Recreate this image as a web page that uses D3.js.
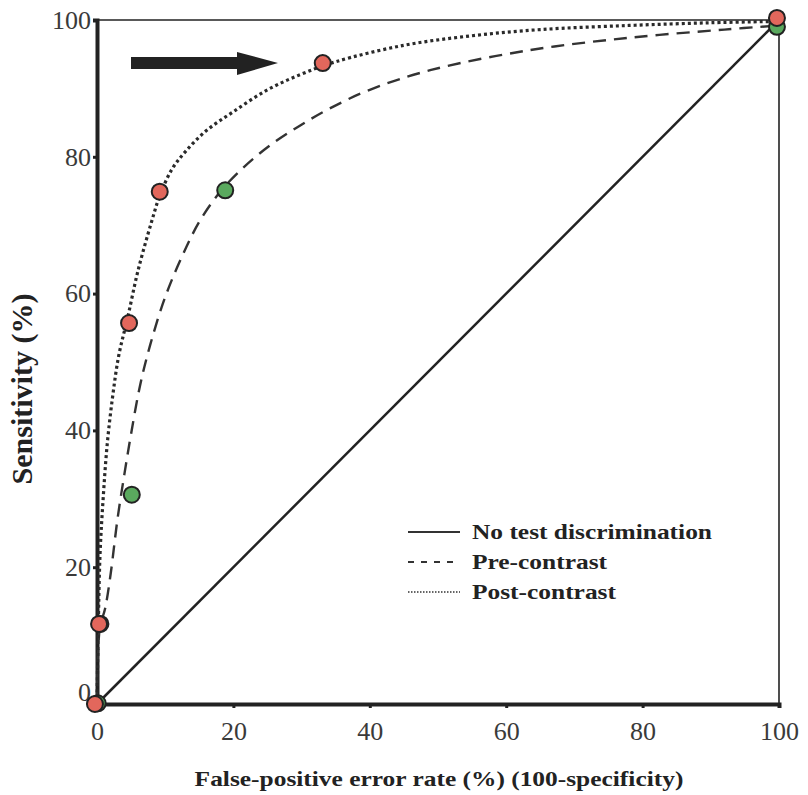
<!DOCTYPE html>
<html>
<head>
<meta charset="utf-8">
<script src="https://cdn.jsdelivr.net/npm/d3@7"></script>
<style>
  html, body { margin: 0; padding: 0; background: #fff; }
  svg { display: block; }
</style>
</head>
<body>
<svg id="chart" width="808" height="795"></svg>
<script>
// ---- data ----
const xTicks = [0, 20, 40, 60, 80, 100];
const yTicks = [0, 20, 40, 60, 80, 100];

const diagonalX = [0, 100];
const diagonalY = [0, 100];

// Post-contrast fitted ROC curve (dotted)
const postCurveX = [0, 0.2, 0.45, 0.9, 1.5, 2.3, 3.2, 4.5, 6, 8, 9.2, 11, 13, 16, 20, 25, 30, 35, 45, 55, 65, 78, 90, 100];
const postCurveY = [0, 12, 22, 30, 38, 45, 51, 56.5, 63.3, 70.5, 74.3, 78.2, 80.8, 83.8, 86.6, 89.8, 92.1, 93.9, 96.3, 97.7, 98.6, 99.2, 99.6, 99.8];

// Pre-contrast fitted ROC curve (dashed)
const preCurveX = [0, 0.4, 1.2, 2, 3, 4, 5, 6.3, 7.8, 10, 12.5, 15, 18, 21, 25, 29.5, 34, 40, 49, 63.5, 78, 92, 100];
const preCurveY = [0, 11, 14, 19, 27, 33.5, 39.5, 46.5, 52.5, 59.5, 65.5, 70.5, 74.8, 78, 81.4, 84.4, 87, 89.8, 92.7, 95.6, 97.4, 98.6, 99.2];

// Observed operating points
const preX = [0.1, 0.5, 5.1, 18.8, 99.7];
const preY = [0.1, 11.7, 30.6, 75.1, 99.0];
const postX = [-0.3, 0.3, 4.7, 9.2, 33.1, 99.7];
const postY = [0, 11.7, 55.7, 74.9, 93.7, 100.3];

const legendLabels = ["No test discrimination", "Pre-contrast", "Post-contrast"];
const xTitle = "False-positive error rate (%) (100-specificity)";
const yTitle = "Sensitivity (%)";

// ---- layout ----
const svg = d3.select("#chart");
const mLeft = 97, mTop = 20, mRight = 779, mBottom = 704;
const x = d3.scaleLinear().domain([0, 100]).range([mLeft, mRight]);
const y = d3.scaleLinear().domain([0, 100]).range([mBottom, mTop]);

const ink = "#222";
const serif = "'Liberation Serif', 'Times New Roman', serif";
const stretch = 1.21; // the reference text is slightly wider than normal

// frame: thin top & right
svg.append("line").attr("x1", x(0)).attr("x2", x(100)).attr("y1", y(100)).attr("y2", y(100))
  .attr("stroke", ink).attr("stroke-width", 1.6);
svg.append("line").attr("x1", x(100)).attr("x2", x(100)).attr("y1", y(100)).attr("y2", y(0))
  .attr("stroke", ink).attr("stroke-width", 1.6);

// axes
const xAxis = svg.append("g").attr("transform", `translate(0,${mBottom})`)
  .call(d3.axisBottom(x).tickValues(xTicks).tickSize(4).tickPadding(14).tickFormat(d3.format("d")));
const yAxis = svg.append("g").attr("transform", `translate(${mLeft},0)`)
  .call(d3.axisLeft(y).tickValues(yTicks).tickSize(4).tickPadding(2).tickFormat(d3.format("d")));
[xAxis, yAxis].forEach(g => {
  g.select(".domain").attr("stroke", ink).attr("stroke-width", 4);
  g.selectAll(".tick line").attr("stroke", ink).attr("stroke-width", 3);
  g.selectAll(".tick text").attr("font-family", serif).attr("font-size", 26).attr("fill", "#3a3a3a");
});
yAxis.selectAll(".tick text").attr("dy", d => d === 0 ? "-0.15em" : "0.32em");

// diagonal
const line = d3.line().x(d => x(d[0])).y(d => y(d[1]));
svg.append("path").datum(diagonalX.map((v, i) => [v, diagonalY[i]]))
  .attr("d", line).attr("fill", "none").attr("stroke", ink).attr("stroke-width", 2.5);

// fitted curves
const smooth = d3.line().x(d => x(d[0])).y(d => y(d[1])).curve(d3.curveCatmullRom.alpha(0.5));
svg.append("path").datum(preCurveX.map((v, i) => [v, preCurveY[i]]))
  .attr("d", smooth).attr("fill", "none").attr("stroke", "#333")
  .attr("stroke-width", 2.4).attr("stroke-dasharray", "13,8");
svg.append("path").datum(postCurveX.map((v, i) => [v, postCurveY[i]]))
  .attr("d", smooth).attr("fill", "none").attr("stroke", "#2a2a2a")
  .attr("stroke-width", 3.2).attr("stroke-dasharray", "3,3");

// points
svg.append("g").selectAll("circle").data(preX.map((v, i) => [v, preY[i]])).join("circle")
  .attr("cx", d => x(d[0])).attr("cy", d => y(d[1])).attr("r", 8)
  .attr("fill", "#5aa95e").attr("stroke", ink).attr("stroke-width", 2);
svg.append("g").selectAll("circle").data(postX.map((v, i) => [v, postY[i]])).join("circle")
  .attr("cx", d => x(d[0])).attr("cy", d => y(d[1])).attr("r", 8)
  .attr("fill", "#e2675c").attr("stroke", ink).attr("stroke-width", 2);

// arrow
svg.append("path")
  .attr("d", "M131,57 L237,57 L237,52 L278,63 L237,75 L237,69 L131,69 Z")
  .attr("fill", "#222");

function widen(sel) {
  sel.each(function () {
    const w = this.getComputedTextLength();
    d3.select(this).attr("textLength", w * stretch).attr("lengthAdjust", "spacingAndGlyphs");
  });
}

// legend
const lg = svg.append("g");
const rows = [532, 562, 592];
const styles = [
  { dash: null, w: 2.2 },
  { dash: "6,7", w: 2.2 },
  { dash: "1.5,1.5", w: 1.5 }
];
legendLabels.forEach((lab, i) => {
  lg.append("line").attr("x1", 408).attr("x2", 460).attr("y1", rows[i]).attr("y2", rows[i])
    .attr("stroke", "#333").attr("stroke-width", styles[i].w)
    .attr("stroke-dasharray", styles[i].dash);
  lg.append("text").attr("x", 472).attr("y", rows[i]).attr("dy", "0.35em")
    .attr("font-family", serif).attr("font-weight", "bold").attr("font-size", 21)
    .attr("fill", "#222").text(lab).call(widen);
});

// axis titles
svg.append("text").attr("x", 439).attr("y", 786).attr("text-anchor", "middle")
  .attr("font-family", serif).attr("font-weight", "bold").attr("font-size", 21)
  .attr("fill", "#222").text(xTitle).call(widen);
svg.append("text").attr("transform", "translate(32,389) rotate(-90)").attr("text-anchor", "middle")
  .attr("font-family", serif).attr("font-weight", "bold").attr("font-size", 30)
  .attr("fill", "#222").text(yTitle);
</script>
</body>
</html>
